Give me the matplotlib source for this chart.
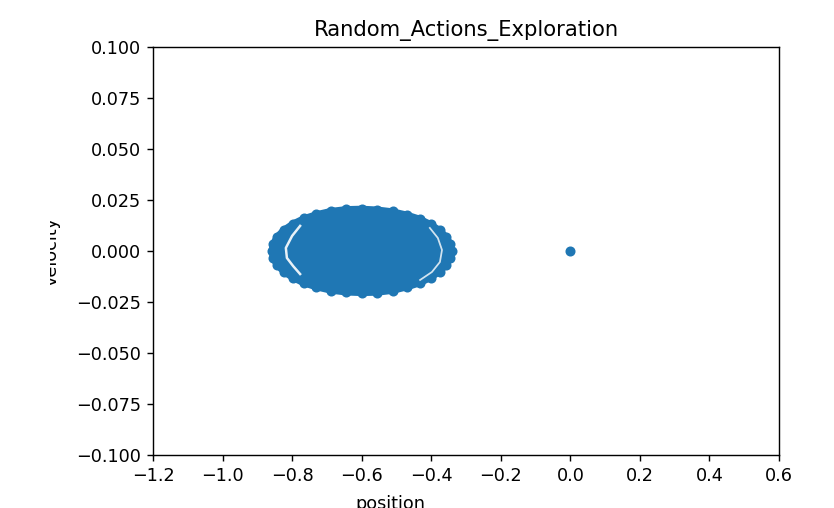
import matplotlib
matplotlib.use('Agg')
import matplotlib.pyplot as plt
from matplotlib.patches import Rectangle

# outline of the explored region (position, velocity)
edge_position = [-0.341, -0.345, -0.357, -0.376, -0.402, -0.433, -0.470, -0.511,
                 -0.555, -0.600, -0.645, -0.689, -0.730, -0.767, -0.798, -0.824,
                 -0.843, -0.855, -0.859, -0.855, -0.843, -0.824, -0.798, -0.767,
                 -0.730, -0.689, -0.645, -0.600, -0.555, -0.511, -0.470, -0.433,
                 -0.402, -0.376, -0.357, -0.345]
edge_velocity = [0.0000, 0.0036, 0.0070, 0.0103, 0.0132, 0.0158, 0.0178, 0.0194,
                 0.0203, 0.0207, 0.0205, 0.0196, 0.0180, 0.0160, 0.0134, 0.0104,
                 0.0071, 0.0036, 0.0000, -0.0036, -0.0070, -0.0103, -0.0132, -0.0158,
                 -0.0178, -0.0194, -0.0203, -0.0206, -0.0204, -0.0195, -0.0178, -0.0158,
                 -0.0132, -0.0103, -0.0070, -0.0036]

# thin gaps inside the cloud (left and right)
gap_left_position = [-0.777, -0.800, -0.818, -0.815, -0.797, -0.777]
gap_left_velocity = [0.0123, 0.0074, 0.0015, -0.0034, -0.0074, -0.0113]
gap_right_position = [-0.404, -0.381, -0.369, -0.375, -0.398, -0.432]
gap_right_velocity = [0.0113, 0.0064, 0.0005, -0.0054, -0.0103, -0.0142]

# lone state at the origin
single_position = [0.0]
single_velocity = [0.0]

color = '#1f77b4'

fig = plt.figure(figsize=(834 / 127, 508 / 127), dpi=127)
ax = fig.add_axes([153 / 834, 1 - 455 / 508, 626 / 834, 408 / 508])

ax.fill(edge_position, edge_velocity, color=color, linewidth=3.5, edgecolor=color, zorder=2)
ax.scatter(edge_position, edge_velocity, s=22, color=color, zorder=3)
ax.plot(gap_left_position, gap_left_velocity, color='white', linewidth=1.4, alpha=0.9, zorder=4)
ax.plot(gap_right_position, gap_right_velocity, color='white', linewidth=1.0, alpha=0.8, zorder=4)
ax.scatter(single_position, single_velocity, s=22, color=color, zorder=3)

ax.set_xlim(-1.2, 0.6)
ax.set_ylim(-0.1, 0.1)
ax.set_title('Random_Actions_Exploration')
ax.set_xlabel('position', labelpad=5.5, x=(390 - 153) / 626)
ax.set_ylabel('velocity', labelpad=8.5)

# the left strip of the original image is cut away, hiding part of the y label
fig.patches.append(Rectangle((0, 0), 50 / 834, 1, transform=fig.transFigure,
                             facecolor='white', edgecolor='none', zorder=10))

fig.savefig('out.png', dpi=127)
